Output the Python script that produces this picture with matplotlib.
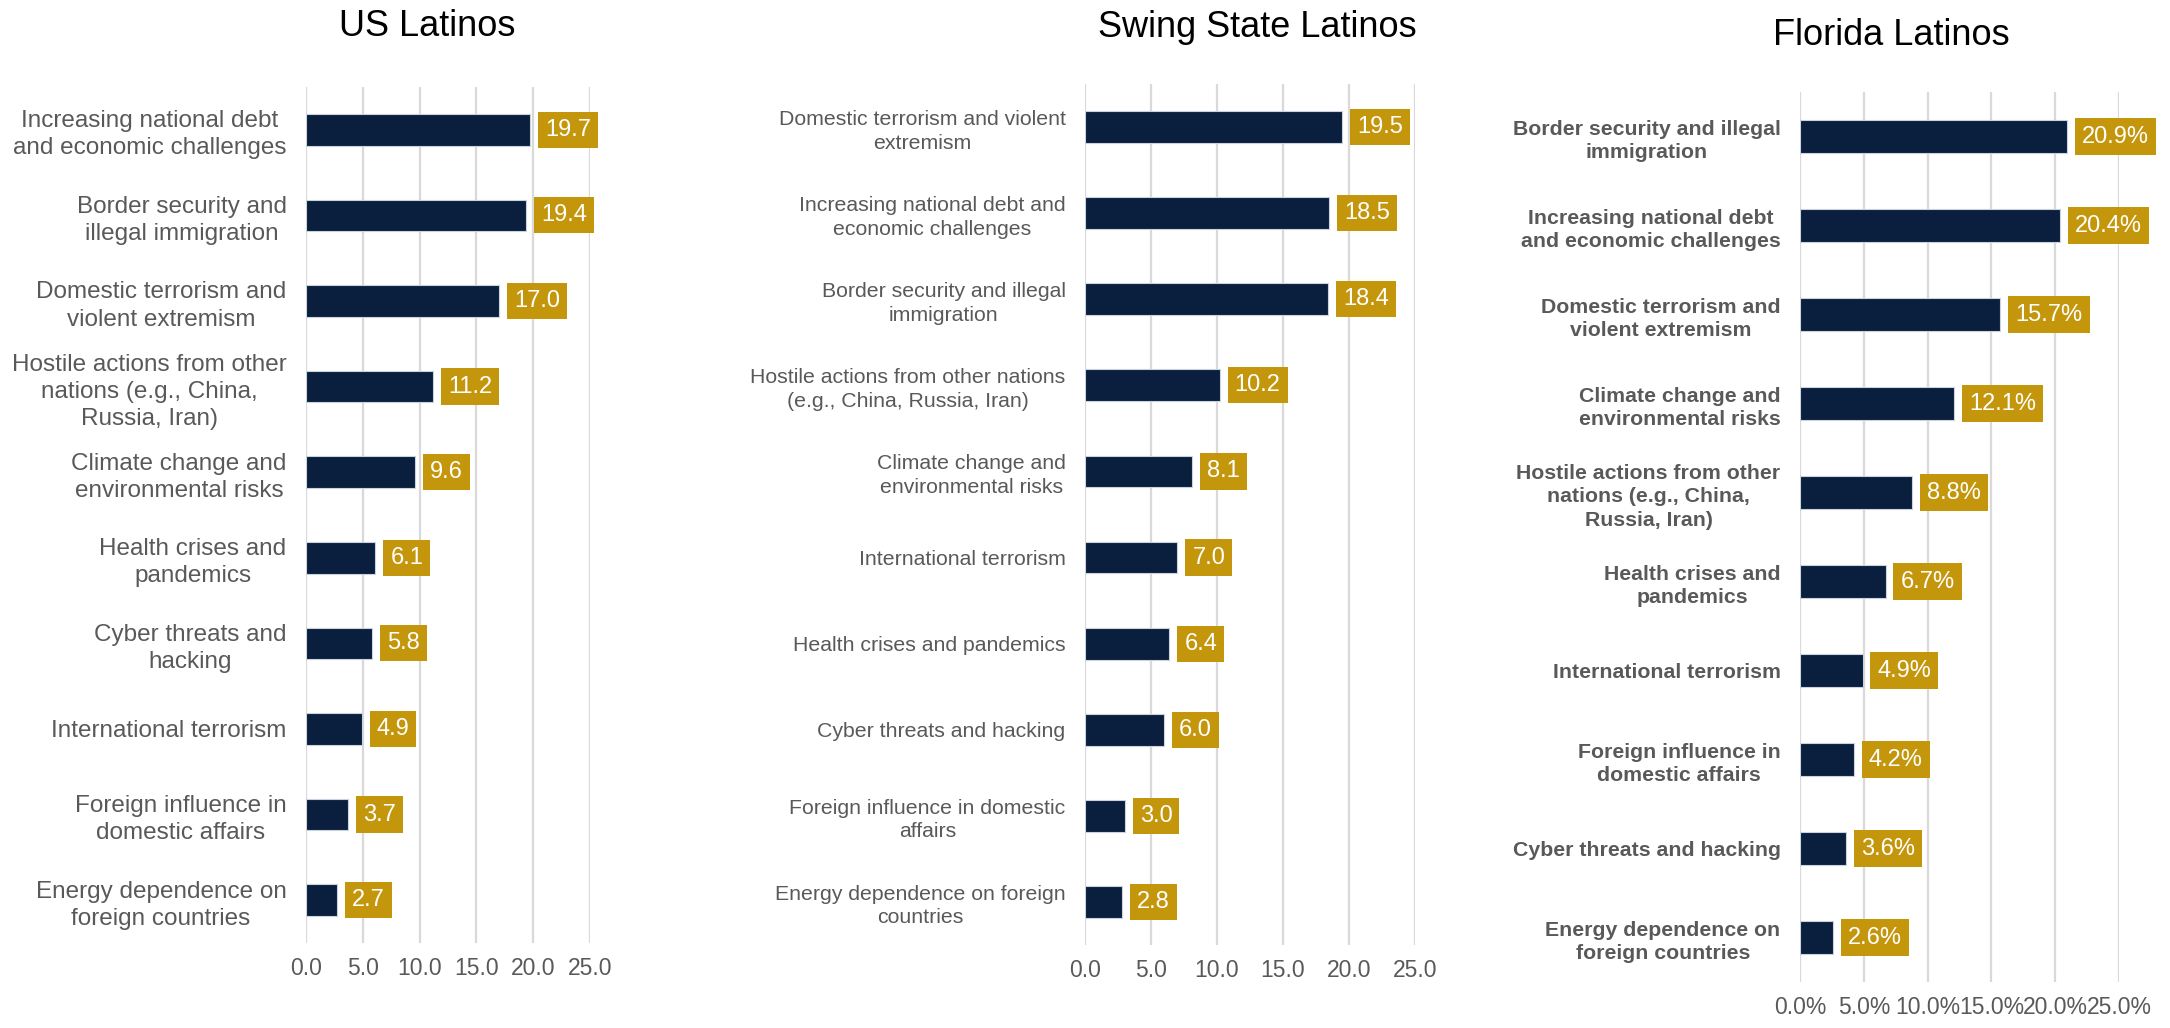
import matplotlib
matplotlib.use("Agg")
import matplotlib.pyplot as plt
from matplotlib.ticker import FuncFormatter

plt.rcParams['font.family'] = ['Liberation Sans', 'DejaVu Sans']

# Data (top to bottom as shown)
us_labels = [
    "Increasing national debt\nand economic challenges",
    "Border security and\nillegal immigration",
    "Domestic terrorism and\nviolent extremism",
    "Hostile actions from other\nnations (e.g., China,\nRussia, Iran)",
    "Climate change and\nenvironmental risks",
    "Health crises and\npandemics",
    "Cyber threats and\nhacking",
    "International terrorism",
    "Foreign influence in\ndomestic affairs",
    "Energy dependence on\nforeign countries",
]
us_values = [19.7, 19.4, 17.0, 11.2, 9.6, 6.1, 5.8, 4.9, 3.7, 2.7]

swing_labels = [
    "Domestic terrorism and violent\nextremism",
    "Increasing national debt and\neconomic challenges",
    "Border security and illegal\nimmigration",
    "Hostile actions from other nations\n(e.g., China, Russia, Iran)",
    "Climate change and\nenvironmental risks",
    "International terrorism",
    "Health crises and pandemics",
    "Cyber threats and hacking",
    "Foreign influence in domestic\naffairs",
    "Energy dependence on foreign\ncountries",
]
swing_values = [19.5, 18.5, 18.4, 10.2, 8.1, 7.0, 6.4, 6.0, 3.0, 2.8]

fl_labels = [
    "Border security and illegal\nimmigration",
    "Increasing national debt\nand economic challenges",
    "Domestic terrorism and\nviolent extremism",
    "Climate change and\nenvironmental risks",
    "Hostile actions from other\nnations (e.g., China,\nRussia, Iran)",
    "Health crises and\npandemics",
    "International terrorism",
    "Foreign influence in\ndomestic affairs",
    "Cyber threats and hacking",
    "Energy dependence on\nforeign countries",
]
fl_values = [20.9, 20.4, 15.7, 12.1, 8.8, 6.7, 4.9, 4.2, 3.6, 2.6]

xticks = [0, 5, 10, 15, 20, 25]

navy = "#0A1F3D"
gold = "#C4960C"
grey = "#595959"
grid_c = "#D9D9D9"

fig = plt.figure(figsize=(21.7, 10.28), dpi=100)

panels = [
    # title, labels, values, axes rect, title pos, label size, bold, percent
    ("US Latinos", us_labels, us_values, [0.1410, 0.0827, 0.1309, 0.8327], (0.197, 0.9747), 17.5, False, False),
    ("Swing State Latinos", swing_labels, swing_values, [0.5000, 0.0807, 0.1521, 0.8376], (0.5793, 0.9728), 15.3, False, False),
    ("Florida Latinos", fl_labels, fl_values, [0.8295, 0.0447, 0.1470, 0.8658], (0.8714, 0.9650), 15.3, True, True),
]

for title, labels, values, rect, tpos, lsize, bold, pct in panels:
    ax = fig.add_axes(rect)
    y = list(range(len(values)))
    ax.barh(y, values, height=0.37, color=navy, edgecolor="#C9D3E0", linewidth=0.8, zorder=3)
    ax.set_xlim(0, 25)
    ax.set_ylim(len(values) - 0.5, -0.5)
    ax.set_xticks(xticks)
    if pct:
        ax.xaxis.set_major_formatter(FuncFormatter(lambda v, p: f"{v:.1f}%"))
    else:
        ax.xaxis.set_major_formatter(FuncFormatter(lambda v, p: f"{v:.1f}"))
    ax.set_yticks(y)
    ax.set_yticklabels(labels, fontsize=lsize, color=grey,
                       fontweight="bold" if bold else "normal")
    for t in ax.get_yticklabels():
        t.set_multialignment("center")
        t.set_linespacing(1.3)
    ax.tick_params(axis="y", length=0, pad=14)
    ax.tick_params(axis="x", length=0, pad=10, labelsize=16.5, labelcolor=grey)
    ax.grid(axis="x", color=grid_c, linewidth=1.6, zorder=0)
    ax.set_axisbelow(True)
    for s in ax.spines.values():
        s.set_visible(False)

    for i, v in enumerate(values):
        txt = f"{v:.1f}%" if pct else f"{v:.1f}"
        ax.annotate(txt, xy=(v, i), xytext=(10.8, 0), textcoords="offset points",
                    ha="left", va="center", color="white", fontsize=17,
                    bbox=dict(boxstyle="square,pad=0.3", fc=gold, ec="none"),
                    zorder=4)

    fig.text(tpos[0], tpos[1], title, ha="center", va="center", fontsize=26, color="black")

fig.savefig("out.png", dpi=100)
